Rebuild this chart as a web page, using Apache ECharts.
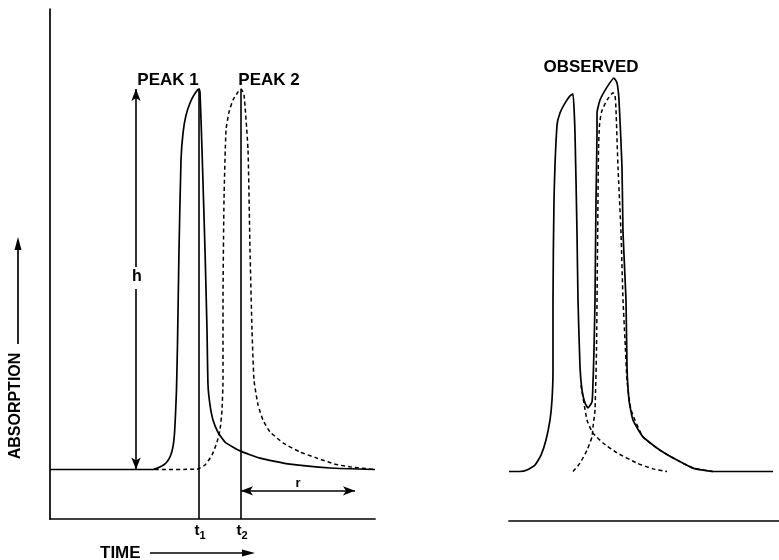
<!DOCTYPE html>
<html>
<head>
<meta charset="utf-8">
<script src="https://cdn.jsdelivr.net/npm/echarts@6/dist/echarts.min.js"></script>
<style>
  html, body { margin: 0; padding: 0; background: #fff; }
  #chart { width: 779px; height: 560px; }
</style>
</head>
<body>
<div id="chart"></div>
<script>
// ---- Left panel: individual peaks (time units, absorption in % of peak height) ----
const peak1Time = [0, 36, 41.2, 43.4, 45.4, 47, 48.2, 49.2, 49.8, 50.2, 50.6, 51, 51.6, 52.4, 53.2, 54.4, 56, 57.6, 59.6, 60, 60.8, 62, 62.8, 63.2, 64, 65.2, 67.2, 70, 76, 84, 96, 112, 130];
const peak1Abs  = [0, 0, 0, 0.5, 1.2, 2.2, 3.6, 6.0, 9.5, 14.5, 21, 33, 57.7, 81.3, 88.4, 93.1, 96.3, 98.4, 100, 99.2, 84, 57.7, 36.7, 22.2, 17, 13, 9.8, 7.2, 4.9, 3.0, 1.4, 0.4, 0];

const peak2Time = [42, 58.8, 62, 64.8, 66.8, 68, 68.8, 69.2, 69.2, 69.6, 70.4, 71.6, 73.2, 75.2, 76.4, 77.6, 79.2, 80, 80.8, 81.6, 83.2, 85.2, 88, 93.2, 100, 106.8, 114, 120, 130];
const peak2Abs  = [0, 0.1, 1.2, 3.8, 7.2, 10.4, 15.6, 23.5, 44.5, 70.8, 89.2, 93.9, 97.1, 99.2, 100, 98.5, 84, 57.7, 36.7, 23.5, 17, 13, 9.9, 7, 4.6, 3, 1.4, 0.7, 0];

const retentionTimes = [59.6, 76.4];      // t1, t2
const peakHeight = 100;                    // h
const hArrowTime = 34.4;
const hGap = [53.2, 47.4];
const rArrowTimes = [76.4, 122];
const rArrowLevel = -5.6;

// ---- Right panel: observed (overlapping) trace and its components ----
const obsTime = [0, 4.4, 7.2, 10.4, 12.8, 14.8, 16.4, 17.2, 17.6, 17.6, 18, 19.2, 20.4, 22.4, 24.4, 25.6, 26.4, 27.2, 27.6, 28.4, 29.2, 30.4, 31.6, 33.2, 33.6, 34, 34.4, 34.8, 35.2, 35.2, 36.4, 39.2, 42, 43.2, 44, 45.2, 45.6, 46.8, 47.2, 48, 49.6, 53.6, 60.4, 67.2, 73.6, 81.6, 105.6];
const obsAbs  = [0, 0, 0.4, 1.7, 4.3, 8.3, 13.5, 18.8, 26.7, 45.1, 71.3, 91, 94.2, 96.8, 98.7, 99.2, 88.9, 62.7, 45.1, 27.5, 21.4, 18, 16.7, 18.3, 23.3, 31.9, 45.1, 71.3, 88.9, 94.2, 97.6, 101, 103.4, 102.1, 97.6, 80, 62.7, 45.1, 27.5, 18.8, 13.5, 9.1, 5.6, 3.0, 0.9, 0, 0];

const compATime = [28.8, 31.2, 33.6, 37.6, 43.2, 51.2, 57.6, 63.2];
const compAAbs  = [22.7, 13.5, 10.1, 7.5, 4.9, 2.2, 0.7, 0];

const compBTime = [25.6, 28.4, 31.2, 33.2, 33.6, 34.4, 35.0, 35.4, 35.8, 36.2, 37, 39.2, 41.6, 42.4, 42.8, 43.6, 44.8, 45.6, 46.4, 47.2, 48.8, 53.6, 60.4, 67.2, 73.6, 81.6];
const compBAbs  = [0, 2.2, 5.6, 9.1, 11.7, 16.2, 31.9, 58.2, 84.5, 91, 94.5, 97.6, 99.5, 98.9, 95, 80, 62.7, 45.1, 34.5, 24, 16.2, 9.1, 5.6, 3.0, 0.9, 0];

const zip = (xs, ys) => xs.map((x, i) => [x, ys[i]]);

const FONT = '"Liberation Sans", Arial, Helvetica, sans-serif';
const solid = { color: '#000', width: 1.7, type: 'solid' };
const dashed = { color: '#000', width: 1.5, type: [4, 3] };

function curve(name, xs, ys, grid, style) {
  return {
    name, type: 'line', xAxisIndex: grid, yAxisIndex: grid,
    data: zip(xs, ys), showSymbol: false, symbol: 'none',
    smooth: 0.15, lineStyle: style, silent: true, z: 3
  };
}

function seg(a, b, symA, symB) {
  return [
    { coord: a, symbol: symA, symbolSize: [7, 12] },
    { coord: b, symbol: symB, symbolSize: [7, 12] }
  ];
}

const chart = echarts.init(document.getElementById('chart'), null, { renderer: 'canvas' });

const hiddenAxis = {
  axisTick: { show: false }, axisLabel: { show: false }, splitLine: { show: false }
};

function label(text, x, y, size, align) {
  return { type: 'text', x, y, silent: true,
    style: { text, font: 'bold ' + size + 'px ' + FONT, fill: '#000', align: align || 'center', verticalAlign: 'middle' } };
}

function subLabel(main, sub, x, y) {
  return { type: 'text', x, y, silent: true,
    style: { text: '{t|' + main + '}{s|' + sub + '}', align: 'center', verticalAlign: 'middle',
      rich: { t: { font: 'bold 15px ' + FONT, fill: '#000' },
              s: { font: 'bold 11px ' + FONT, fill: '#000', padding: [9, 0, 0, 0] } } } };
}

chart.setOption({
  animation: false,
  backgroundColor: '#fff',
  grid: [
    { left: 50, top: 9, width: 325, height: 510 },
    { left: 509, top: 11, width: 270, height: 510 }
  ],
  xAxis: [
    Object.assign({ type: 'value', gridIndex: 0, min: 0, max: 130,
      axisLine: { show: true, onZero: false, lineStyle: { color: '#000', width: 1.7 } } }, hiddenAxis),
    Object.assign({ type: 'value', gridIndex: 1, min: 0, max: 108,
      axisLine: { show: true, onZero: false, lineStyle: { color: '#000', width: 1.7 } } }, hiddenAxis)
  ],
  yAxis: [
    Object.assign({ type: 'value', gridIndex: 0, min: -13, max: 121,
      axisLine: { show: true, onZero: false, lineStyle: { color: '#000', width: 1.7 } } }, hiddenAxis),
    Object.assign({ type: 'value', gridIndex: 1, min: -13, max: 121,
      axisLine: { show: false } }, hiddenAxis)
  ],
  series: [
    Object.assign(curve('Peak 1', peak1Time, peak1Abs, 0, solid), {
      markLine: {
        silent: true, animation: false,
        label: { show: false },
        lineStyle: { color: '#000', width: 1.6, type: 'solid' },
        symbol: ['none', 'none'],
        data: [
          seg([retentionTimes[0], peakHeight], [retentionTimes[0], -13], 'none', 'none'),
          seg([retentionTimes[1], peakHeight], [retentionTimes[1], -13], 'none', 'none'),
          seg([hArrowTime, peakHeight], [hArrowTime, hGap[0]], 'arrow', 'none'),
          seg([hArrowTime, hGap[1]], [hArrowTime, 0], 'none', 'arrow'),
          seg([rArrowTimes[0], rArrowLevel], [rArrowTimes[1], rArrowLevel], 'arrow', 'arrow')
        ]
      }
    }),
    curve('Peak 2', peak2Time, peak2Abs, 0, dashed),
    curve('Observed', obsTime, obsAbs, 1, solid),
    curve('Component 1', compATime, compAAbs, 1, dashed),
    curve('Component 2', compBTime, compBAbs, 1, dashed)
  ],
  graphic: [
    label('PEAK 1', 168, 80, 17),
    label('PEAK 2', 269, 80, 17),
    label('OBSERVED', 591, 67, 17),
    label('h', 137, 277, 16),
    label('r', 298, 483, 13),
    subLabel('t', '1', 200, 531),
    subLabel('t', '2', 242, 531),
    // ABSORPTION axis title with arrow
    { type: 'text', x: 16, y: 406, rotation: Math.PI / 2, silent: true,
      style: { text: 'ABSORPTION', font: 'bold 16px ' + FONT, fill: '#000', align: 'center', verticalAlign: 'middle' } },
    { type: 'line', silent: true, shape: { x1: 18, y1: 344, x2: 18, y2: 246 }, style: { stroke: '#000', lineWidth: 1.7 } },
    { type: 'polygon', silent: true, shape: { points: [[18, 237], [14.5, 250], [21.5, 250]] }, style: { fill: '#000' } },
    // TIME axis title with arrow
    label('TIME', 100, 553, 17, 'left'),
    { type: 'line', silent: true, shape: { x1: 150, y1: 553, x2: 244, y2: 553 }, style: { stroke: '#000', lineWidth: 1.7 } },
    { type: 'polygon', silent: true, shape: { points: [[255, 553], [242, 549.5], [242, 556.5]] }, style: { fill: '#000' } }
  ]
});
</script>
</body>
</html>
